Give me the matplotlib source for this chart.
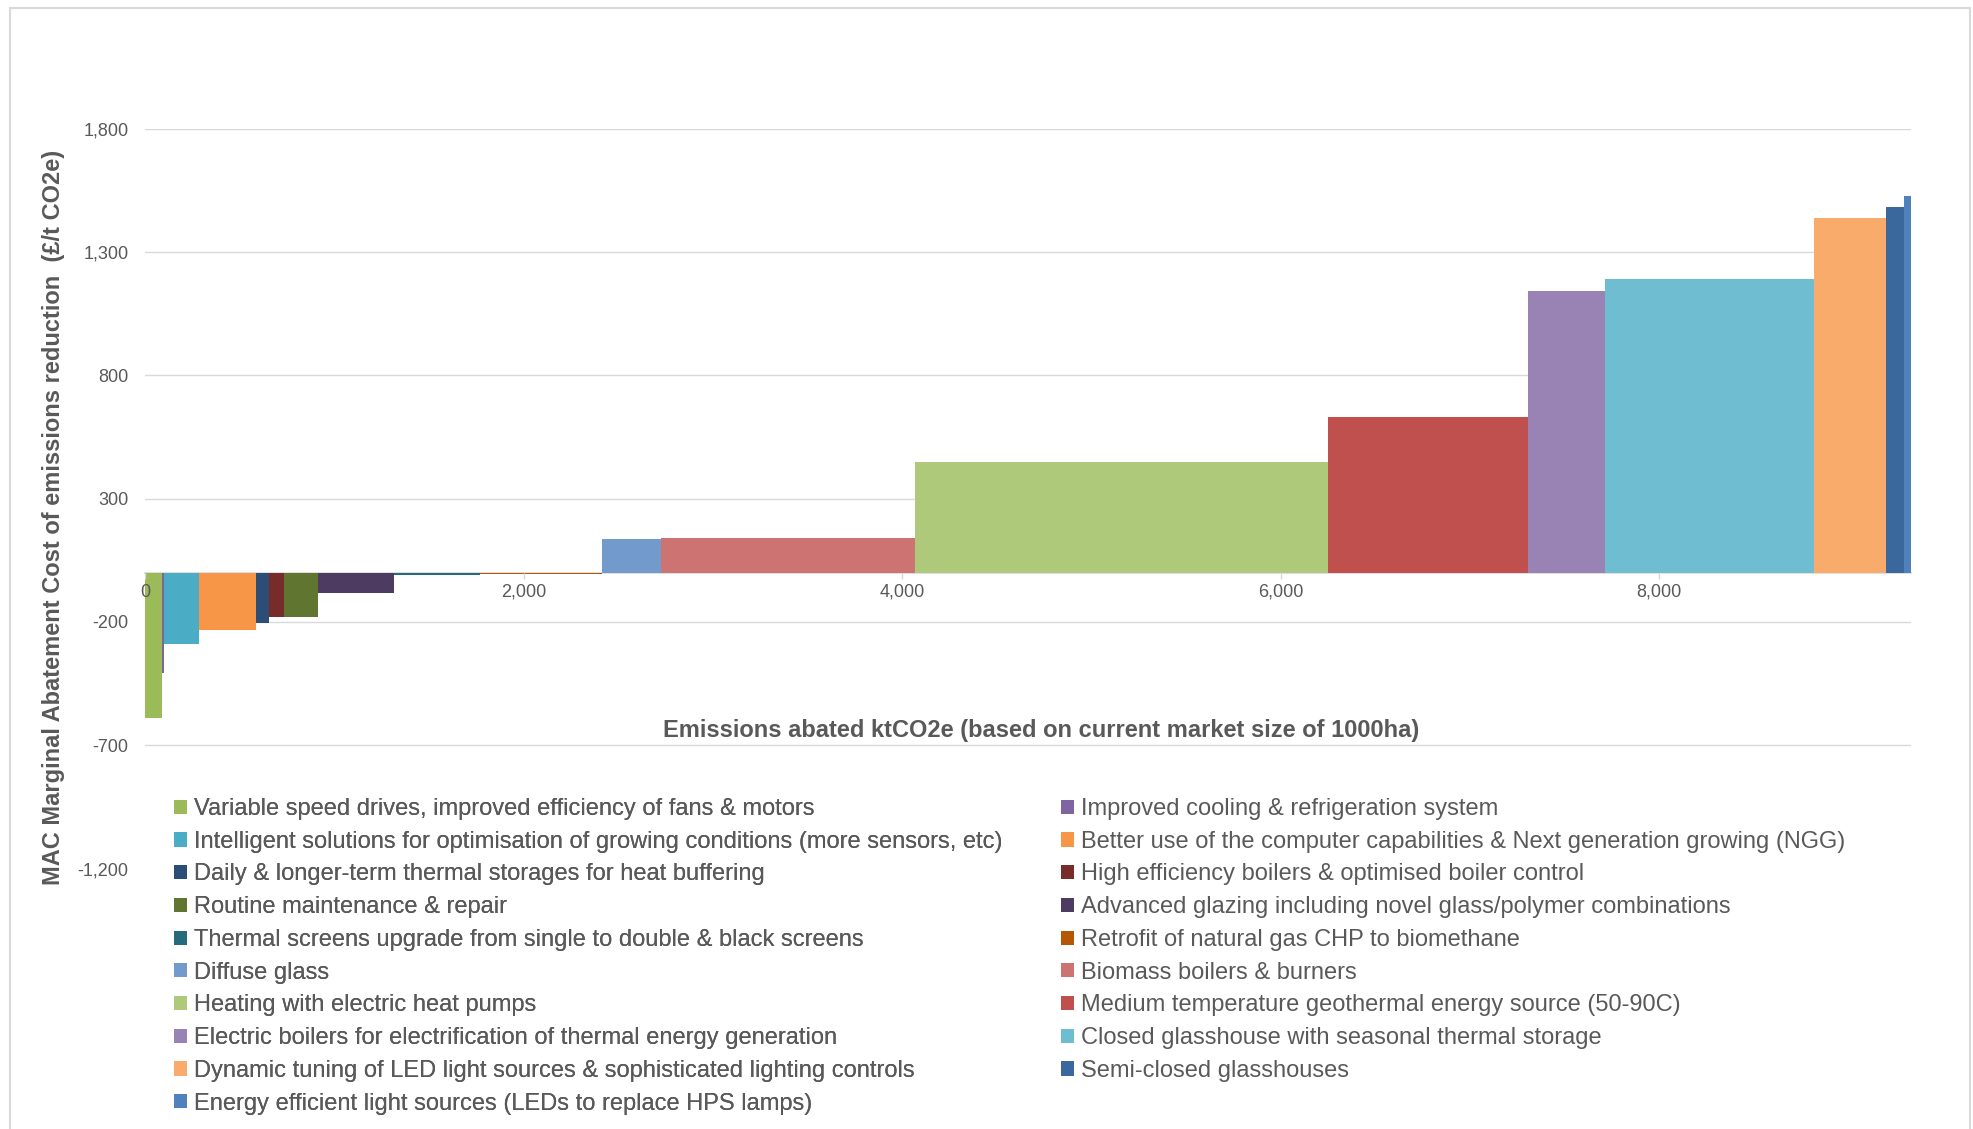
import numpy as np
import matplotlib
matplotlib.use("Agg")
import matplotlib.pyplot as plt
from matplotlib.patches import Patch, Rectangle

plt.rcParams['font.family'] = ['Liberation Sans', 'DejaVu Sans']

# abatement measures, in the order they sit on the cost curve
measures = [
    "Variable speed drives, improved efficiency of fans & motors",
    "Improved cooling & refrigeration system",
    "Intelligent solutions for optimisation of growing conditions (more sensors, etc)",
    "Better use of the computer capabilities & Next generation growing (NGG)",
    "Daily & longer-term thermal storages for heat buffering",
    "High efficiency boilers & optimised boiler control",
    "Routine maintenance & repair",
    "Advanced glazing including novel glass/polymer combinations",
    "Thermal screens upgrade from single to double & black screens",
    "Retrofit of natural gas CHP to biomethane",
    "Diffuse glass",
    "Biomass boilers & burners",
    "Heating with electric heat pumps",
    "Medium temperature geothermal energy source (50-90C)",
    "Electric boilers for electrification of thermal energy generation",
    "Closed glasshouse with seasonal thermal storage",
    "Dynamic tuning of LED light sources & sophisticated lighting controls",
    "Semi-closed glasshouses",
    "Energy efficient light sources (LEDs to replace HPS lamps)",
]
# emissions abated (ktCO2e) -> bar width
abated = [88, 15, 180, 303, 67, 79, 180, 406, 453, 646,
          309, 1340, 2186, 1057, 405, 1104, 381, 96, 36]
# marginal abatement cost (GBP/t CO2e) -> bar height
mac = [-590, -405, -288, -232, -203, -178, -178, -81, -8, -7,
       135, 142, 450, 633, 1143, 1190, 1440, 1484, 1528]
colors = ['#9BBB59', '#8064A2', '#4BACC6', '#F79646', '#2C4D75', '#772C2A',
          '#5F7530', '#4D3B62', '#276A7C', '#B65708', '#729ACA', '#CD7371',
          '#AFC97A', '#C0504D', '#9983B5', '#6FBDD1', '#F9AB6B', '#3A679C',
          '#4F81BD']

x_ticks = [0, 2000, 4000, 6000, 8000]
y_ticks = [-1200, -700, -200, 300, 800, 1300, 1800]

W, H = 1973, 1129
fig = plt.figure(figsize=(W / 100, H / 100), dpi=100)
ax = fig.add_axes([145 / W, 1 - 868.6 / H, (1911 - 145) / W, (868.6 - 128.8) / H])

lefts = np.concatenate([[0], np.cumsum(abated)[:-1]])
ax.bar(lefts, mac, width=abated, align='edge', color=colors, linewidth=0, zorder=2)

grey = '#595959'
ax.set_xlim(0, sum(abated))
ax.set_ylim(-1200, 1800)
ax.set_yticks(y_ticks)
ax.set_yticklabels([f"{v:,}" for v in y_ticks])
ax.set_xticks(x_ticks)
ax.set_xticklabels([f"{v:,}" for v in x_ticks])
ax.tick_params(axis='y', length=0, pad=12, labelsize=13, labelcolor=grey)
ax.tick_params(axis='x', length=4, width=1, color='#D9D9D9', pad=4,
               labelsize=13, labelcolor=grey)
ax.yaxis.grid(True, color='#D9D9D9', linewidth=1)
ax.set_axisbelow(True)
ax.xaxis.set_zorder(4)
for s in ['top', 'right', 'left']:
    ax.spines[s].set_visible(False)
ax.spines['bottom'].set_position(('data', 0))
ax.spines['bottom'].set_color('#D9D9D9')
ax.spines['bottom'].set_linewidth(1.2)
ax.spines['bottom'].set_zorder(1.5)
# lowest gridline sits behind the legend
ax.yaxis.get_gridlines()[0].set_visible(False)

fig.text(1041 / W, 1 - 730 / H,
         "Emissions abated ktCO2e (based on current market size of 1000ha)",
         ha='center', va='center', fontsize=17, fontweight='bold', color=grey)
fig.text(54 / W, 1 - 517 / H,
         "MAC Marginal Abatement Cost of emissions reduction  (\u00a3/t CO2e)",
         ha='center', va='center', rotation=90, fontsize=17,
         fontweight='bold', color=grey)

# legend in two columns, filled row by row
handles = [Patch(facecolor=c, edgecolor='none') for c in colors]
leg_kw = dict(loc='upper left', frameon=False, fontsize=17, labelcolor=grey,
              handlelength=0.55, handleheight=0.55, handletextpad=0.3,
              labelspacing=0.455, borderpad=0, borderaxespad=0)
leg1 = fig.legend(handles[0::2], measures[0::2],
                  bbox_to_anchor=(174 / W, 1 - 798 / H), **leg_kw)
leg2 = fig.legend(handles[1::2], measures[1::2],
                  bbox_to_anchor=(1061 / W, 1 - 798 / H), **leg_kw)
fig.add_artist(leg1)

# chart border
fig.patches.append(Rectangle((9.5 / W, -0.1), (1970 - 9.5) / W, 1.1 - 8 / H,
                             transform=fig.transFigure, fill=False,
                             edgecolor='#D9D9D9', linewidth=1.5))

fig.savefig("out.png", dpi=100, facecolor='white')
